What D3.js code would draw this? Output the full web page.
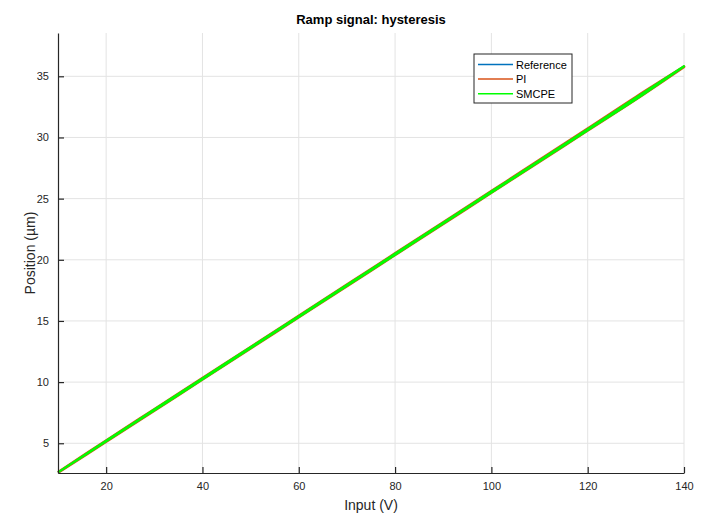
<!DOCTYPE html>
<html>
<head>
<meta charset="utf-8">
<script src="https://cdn.jsdelivr.net/npm/d3@7"></script>
<style>
  body { margin: 0; background: #fff; }
  svg { font-family: "Liberation Sans", Arial, Helvetica, sans-serif; }
</style>
</head>
<body>
<svg id="chart"></svg>
<script>
// input voltage, ramp up then ramp down
var inputUp = [10, 20, 30, 40, 50, 60, 70, 80, 90, 100, 110, 120, 130, 140]
var inputDown = [140, 130, 120, 110, 100, 90, 80, 70, 60, 50, 40, 30, 20, 10]

var refUp = [2.60, 5.15, 7.69, 10.24, 12.78, 15.33, 17.87, 20.42, 22.96, 25.51, 28.05, 30.60, 33.16, 35.80]
var refDown = [35.80, 33.22, 30.66, 28.11, 25.57, 23.02, 20.48, 17.93, 15.39, 12.84, 10.30, 7.75, 5.20, 2.62]

var piUp = [2.60, 5.13, 7.67, 10.22, 12.76, 15.31, 17.85, 20.40, 22.94, 25.49, 28.03, 30.58, 33.12, 35.78]
var piDown = [35.78, 33.30, 30.72, 28.16, 25.61, 23.06, 20.51, 17.96, 15.41, 12.86, 10.32, 7.77, 5.22, 2.62]

var smcpeUp = [2.62, 5.15, 7.69, 10.23, 12.78, 15.32, 17.87, 20.41, 22.96, 25.50, 28.05, 30.59, 33.12, 35.82]
var smcpeDown = [35.82, 33.26, 30.68, 28.12, 25.58, 23.03, 20.49, 17.94, 15.40, 12.85, 10.31, 7.76, 5.21, 2.62]

var xTicks = [20, 40, 60, 80, 100, 120, 140]
var yTicks = [5, 10, 15, 20, 25, 30, 35]

var seriesNames = ["Reference", "PI", "SMCPE"]
var seriesColors = ["#0072BD", "#D95319", "#00FF00"]

var loop = function(up, down)
{
    var pts = []
    inputUp.forEach(function(x, i){ pts.push([x, up[i]]) })
    inputDown.forEach(function(x, i){ pts.push([x, down[i]]) })
    return pts
}

var series = [
    {name: "Reference", pts: loop(refUp, refDown), color: seriesColors[0]},
    {name: "PI", pts: loop(piUp, piDown), color: seriesColors[1]},
    {name: "SMCPE", pts: loop(smcpeUp, smcpeDown), color: seriesColors[2]}
]

var screen = {width: 705, height: 519}
var margins = {top: 33, bottom: 46, left: 58, right: 21}
var graph = {
    width: screen.width - margins.left - margins.right,
    height: screen.height - margins.top - margins.bottom
}

var svg = d3.select("#chart")
    .attr("width", screen.width)
    .attr("height", screen.height)

var xScale = d3.scaleLinear().domain([10, 140]).range([0, graph.width])
var yScale = d3.scaleLinear().domain([2.57, 38.54]).range([graph.height, 0])

var g = svg.append("g")
    .attr("transform", "translate(" + margins.left + "," + margins.top + ")")

// grid
g.append("g").selectAll("line")
    .data(xTicks)
    .enter().append("line")
    .attr("x1", function(d){ return xScale(d) })
    .attr("x2", function(d){ return xScale(d) })
    .attr("y1", 0).attr("y2", graph.height)
    .attr("stroke", "#e3e3e3").attr("stroke-width", 1)
g.append("g").selectAll("line")
    .data(yTicks)
    .enter().append("line")
    .attr("y1", function(d){ return yScale(d) })
    .attr("y2", function(d){ return yScale(d) })
    .attr("x1", 0).attr("x2", graph.width)
    .attr("stroke", "#e3e3e3").attr("stroke-width", 1)

// lines (smooth loop)
var lineGenerator = d3.line()
    .x(function(p){ return xScale(p[0]) })
    .y(function(p){ return yScale(p[1]) })
    .curve(d3.curveCatmullRom.alpha(0.5))

var widths = {"Reference": 1.6, "PI": 2.8, "SMCPE": 2.2}
g.append("g").selectAll("path")
    .data(series)
    .enter().append("path")
    .attr("d", function(s){ return lineGenerator(s.pts) })
    .attr("fill", "none")
    .attr("stroke", function(s){ return s.color })
    .attr("stroke-width", function(s){ return widths[s.name] })
    .attr("stroke-linejoin", "round")

// axes
var xAxis = d3.axisBottom(xScale).tickValues(xTicks).tickSizeInner(-6).tickSizeOuter(0).tickPadding(9)
var yAxis = d3.axisLeft(yScale).tickValues(yTicks).tickSizeInner(-6).tickSizeOuter(0).tickPadding(9)

var xa = g.append("g")
    .attr("transform", "translate(0," + graph.height + ")")
    .call(xAxis)
var ya = g.append("g").call(yAxis)

;[xa, ya].forEach(function(a){
    a.select(".domain").attr("stroke", "#262626").attr("stroke-width", 1.2)
    a.selectAll(".tick line").attr("stroke", "#262626").attr("stroke-width", 1.2)
    a.selectAll(".tick text").attr("fill", "#262626").style("font-size", "11px")
        .style("font-family", "Liberation Sans, Arial, sans-serif")
})

// labels
svg.append("text")
    .text("Ramp signal: hysteresis")
    .attr("x", margins.left + graph.width / 2)
    .attr("y", 24)
    .attr("text-anchor", "middle")
    .style("font-weight", "bold")
    .style("font-size", "13px")
    .attr("fill", "#000")

svg.append("text")
    .text("Input (V)")
    .attr("x", margins.left + graph.width / 2)
    .attr("y", 510)
    .attr("text-anchor", "middle")
    .style("font-size", "14px")
    .attr("fill", "#262626")

svg.append("g")
    .attr("transform", "translate(35," + (margins.top + graph.height / 2) + ")")
    .append("text")
    .text("Position (µm)")
    .attr("text-anchor", "middle")
    .attr("transform", "rotate(-90)")
    .style("font-size", "14px")
    .attr("fill", "#262626")

// legend
var legend = svg.append("g").attr("transform", "translate(474,54)")
legend.append("rect")
    .attr("width", 98).attr("height", 49)
    .attr("fill", "#fff").attr("stroke", "#262626").attr("stroke-width", 1)
var items = legend.selectAll("g.item")
    .data(seriesNames)
    .enter().append("g")
    .attr("transform", function(d, i){ return "translate(0," + (10.5 + i * 14.6) + ")" })
items.append("line")
    .attr("x1", 4).attr("x2", 39)
    .attr("stroke", function(d, i){ return seriesColors[i] })
    .attr("stroke-width", 1.5)
items.append("text")
    .text(function(d){ return d })
    .attr("x", 42).attr("y", 4)
    .style("font-size", "11px")
    .attr("fill", "#000")
</script>
</body>
</html>
